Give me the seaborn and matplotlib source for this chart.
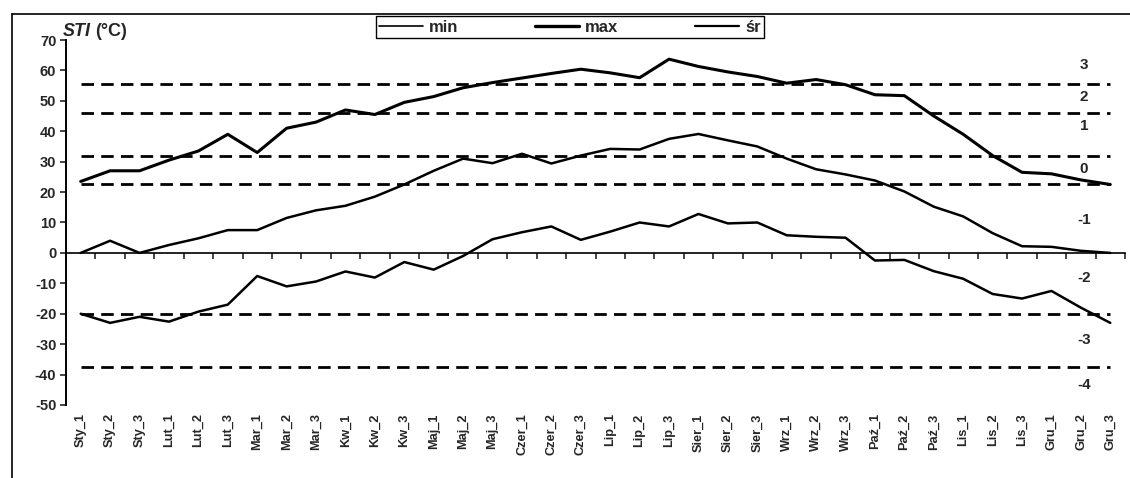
import numpy as np
import pandas as pd
import matplotlib
matplotlib.use("Agg")
import matplotlib.pyplot as plt
import seaborn as sns
from matplotlib.lines import Line2D

# ---------------- data ----------------
categories = ["Sty_1", "Sty_2", "Sty_3", "Lut_1", "Lut_2", "Lut_3",
              "Mar_1", "Mar_2", "Mar_3", "Kw_1", "Kw_2", "Kw_3",
              "Maj_1", "Maj_2", "Maj_3", "Czer_1", "Czer_2", "Czer_3",
              "Lip_1", "Lip_2", "Lip_3", "Sier_1", "Sier_2", "Sier_3",
              "Wrz_1", "Wrz_2", "Wrz_3", "Paź_1", "Paź_2", "Paź_3",
              "Lis_1", "Lis_2", "Lis_3", "Gru_1", "Gru_2", "Gru_3"]

sti_max = [23.5, 27.0, 27.0, 30.5, 33.5, 39.0, 33.0, 41.0, 43.0, 47.0, 45.5, 49.5,
           51.4, 54.3, 56.0, 57.5, 59.0, 60.4, 59.2, 57.6, 63.7, 61.3, 59.5, 58.0,
           55.8, 57.0, 55.3, 52.0, 51.7, 45.0, 39.0, 32.0, 26.5, 26.0, 24.0, 22.5]

sti_sr = [0.0, 4.0, 0.0, 2.6, 4.8, 7.5, 7.5, 11.5, 14.0, 15.5, 18.5, 22.5,
          27.0, 31.0, 29.5, 32.6, 29.4, 32.0, 34.2, 34.0, 37.5, 39.1, 37.0, 35.0,
          31.0, 27.5, 25.8, 23.8, 20.2, 15.2, 12.0, 6.5, 2.2, 2.0, 0.7, 0.0]

sti_min = [-20.0, -23.0, -21.0, -22.6, -19.3, -17.0, -7.6, -11.0, -9.4, -6.1, -8.1, -3.0,
           -5.5, -1.0, 4.5, 6.8, 8.7, 4.3, 7.0, 10.0, 8.7, 12.8, 9.7, 10.0,
           5.8, 5.3, 5.0, -2.5, -2.3, -6.0, -8.5, -13.5, -15.0, -12.5, -18.0, -23.0]

series_names = ["min", "max", "śr"]
thresholds = [55.5, 46.0, 32.0, 22.5, -20.0, -37.5]
class_labels = ["3", "2", "1", "0", "-1", "-2", "-3", "-4"]
class_label_y = [61.8, 51.3, 41.8, 27.6, 10.9, -8.2, -28.6, -43.4]
class_label_x = 34.1
y_ticks = list(range(-50, 71, 10))
y_min, y_max = -50, 70

# ---------------- style ----------------
sns.set_style("white")
plt.rcParams["font.family"] = ["Liberation Sans", "DejaVu Sans"]
plt.rcParams["font.weight"] = "bold"
plt.rcParams["axes.edgecolor"] = "black"

W, H = 1130, 478
fig = plt.figure(figsize=(W / 100, H / 100), dpi=100)
ax = fig.add_axes([66 / W, 1 - 405 / H, (1125 - 66) / W, (405 - 40) / H])

n = len(categories)
df = pd.DataFrame({
    "pos": list(range(n)) * 3,
    "kategoria": categories * 3,
    "STI": sti_min + sti_max + sti_sr,
    "seria": [series_names[0]] * n + [series_names[1]] * n + [series_names[2]] * n,
})

widths = {"min": 1.8, "max": 2.2, "śr": 1.8}
legend_widths = {"min": 1.2, "max": 2.4, "śr": 1.6}
sns.lineplot(data=df, x="pos", y="STI", hue="seria", size="seria",
             sizes=widths, palette={s: "black" for s in series_names},
             sort=False, legend=False, ax=ax)

# threshold dashed lines
ax.hlines(thresholds, 0, n - 1, colors="black", linestyles=(0, (4.5, 2.6)),
          linewidth=2.0, zorder=1)

# class labels on the right
for lab, yv in zip(class_labels, class_label_y):
    ax.text(class_label_x, yv, lab, ha="center", va="center",
            fontsize=11, fontweight="heavy")

ax.set_xlim(-0.5, n - 0.5)
ax.set_ylim(y_min, y_max)
ax.set_yticks(y_ticks)
ax.set_yticklabels([str(v) for v in y_ticks], fontsize=10.5, fontweight="heavy")
ax.set_xticks(range(n))
ax.set_xticklabels(categories, rotation=90, fontsize=9.2, fontweight="heavy")
ax.tick_params(axis="x", length=0, pad=6)
ax.tick_params(axis="y", direction="out", length=4, width=1.2, left=True, pad=3)
ax.set_xlabel("")
ax.set_ylabel("")
for side in ["top", "right", "bottom"]:
    ax.spines[side].set_visible(False)
ax.spines["left"].set_linewidth(1.4)

# zero category axis with tick marks between categories
zero_frac = (0 - y_min) / (y_max - y_min)
sec = ax.secondary_xaxis(zero_frac)
sec.set_alignment("bottom")
sec.set_xticks(np.arange(-0.5, n, 1.0))
sec.set_xticklabels([])
sec.tick_params(axis="x", direction="out", length=4, width=1.2)
sec.spines["bottom"].set_linewidth(1.2)

# axis title
fig.text(63 / W, 1 - 32 / H, "STI", fontsize=13, fontweight="heavy",
         fontstyle="italic", va="center", ha="left")
fig.text(95 / W, 1 - 32 / H, "(°C)", fontsize=13, fontweight="heavy",
         va="center", ha="left")

# legend
handles = [Line2D([], [], color="black", lw=legend_widths[s]) for s in series_names]
fig.legend(handles, series_names, loc="center", bbox_to_anchor=(570 / W, 1 - 27 / H),
           ncol=3, frameon=True, fancybox=False, edgecolor="black",
           prop={"weight": "heavy", "size": 12}, handlelength=2.6,
           columnspacing=4.6, handletextpad=0.4, borderpad=0.2,
           framealpha=1)

# outer frame (top and left edges visible in the scan)
fig.add_artist(Line2D([12 / W, 1.0], [1 - 14 / H, 1 - 14 / H], color="black",
                      lw=1.2, transform=fig.transFigure))
fig.add_artist(Line2D([12 / W, 12 / W], [0.0, 1 - 14 / H], color="black",
                      lw=1.2, transform=fig.transFigure))

fig.savefig("out.png", dpi=100)
